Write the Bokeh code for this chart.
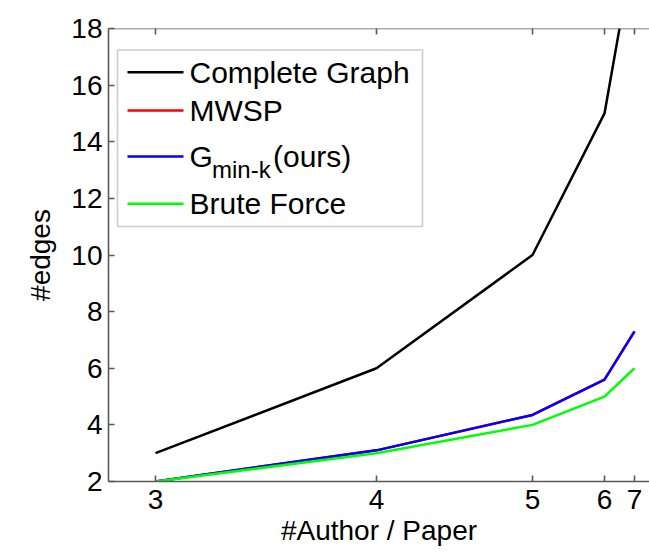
from bokeh.plotting import figure
from bokeh.models import Range1d, FixedTicker, BoxAnnotation, Label, Span
from bokeh.embed import file_html
from bokeh.resources import INLINE

# ---- data ----
author_ticks = [3, 4, 5, 6, 7]                 # tick labels on the x axis
x_axis_pos = [0.0, 2.21, 3.77, 4.49, 4.79]     # where each tick sits on the original's non-uniform x axis
complete_graph = [3, 6, 10, 15, 21]
mwsp = [2, 3.1, 4.35, 5.6, 7.3]
gmin_k = [2, 3.1, 4.35, 5.6, 7.3]
brute_force = [2, 3, 4, 5, 6]
y_ticks = [2, 4, 6, 8, 10, 12, 14, 16, 18]

series_names = ["Complete Graph", "MWSP", "G", "Brute Force"]
series_colors = ["#000000", "#ff0000", "#0000ff", "#00ff00"]

# ---- layout ----
W, H = 649, 554
LEFT, TOP, BOTTOM = 108, 28, 73
X0, X1 = -0.47, 4.94
Y0, Y1 = 2, 18
FONT = "Liberation Sans"
AXIS_COLOR = "#595959"


def dx(px):
    return X0 + (px - LEFT) / (W - LEFT) * (X1 - X0)


def dy(py):
    return Y1 - (py - TOP) / (H - TOP - BOTTOM) * (Y1 - Y0)


p = figure(width=W, height=H, x_range=Range1d(X0, X1), y_range=Range1d(Y0, Y1),
           output_backend="svg", toolbar_location=None,
           min_border_left=LEFT, min_border_right=0, min_border_top=TOP,
           min_border_bottom=BOTTOM)
p.outline_line_color = None
p.grid.visible = False
p.background_fill_color = "white"
p.border_fill_color = "white"

xa = p.xaxis[0]
xa.ticker = FixedTicker(ticks=x_axis_pos)
xa.major_label_overrides = {pos: str(t) for pos, t in zip(x_axis_pos, author_ticks)}
xa.axis_label = "#Author / Paper"
xa.major_label_standoff = 8
xa.axis_label_standoff = 3

ya = p.yaxis[0]
ya.ticker = FixedTicker(ticks=y_ticks)
ya.axis_label = "#edges"
ya.major_label_standoff = 6
ya.axis_label_standoff = 12

for ax in (xa, ya):
    ax.major_tick_in = 6
    ax.major_tick_out = 0
    ax.minor_tick_line_color = None
    ax.axis_line_color = AXIS_COLOR
    ax.axis_line_width = 1.6
    ax.major_tick_line_color = AXIS_COLOR
    ax.major_tick_line_width = 1.6
    ax.major_label_text_font = FONT
    ax.major_label_text_font_size = "28px"
    ax.major_label_text_color = "black"
    ax.axis_label_text_font = FONT
    ax.axis_label_text_font_size = "28px"
    ax.axis_label_text_font_style = "normal"
    ax.axis_label_text_color = "black"

# top frame line with inward ticks (box on, as in the original)
p.add_layout(Span(location=Y1, dimension="width", line_color=AXIS_COLOR,
                  line_width=1.6, level="overlay"))
tick_len = (Y1 - Y0) / (H - TOP - BOTTOM) * 6
p.segment(x0=x_axis_pos, x1=x_axis_pos, y0=[Y1] * len(x_axis_pos),
          y1=[Y1 - tick_len] * len(x_axis_pos), line_color=AXIS_COLOR,
          line_width=1.6, level="overlay")

# ---- data lines ----
for ys, c in zip([complete_graph, mwsp, gmin_k, brute_force], series_colors):
    p.line(x_axis_pos, ys, line_color=c, line_width=2.5)

# ---- legend (drawn by hand for the subscript) ----
p.add_layout(BoxAnnotation(left=dx(117), right=dx(422), top=dy(49.5), bottom=dy(226),
                           fill_color="white", fill_alpha=0.0,
                           line_color=AXIS_COLOR, line_width=1.6, level="overlay"))
row_y = [71.7, 110, 156.0, 203.3]
p.segment(x0=[dx(127)] * 4, x1=[dx(183)] * 4,
          y0=[dy(r) for r in row_y], y1=[dy(r) for r in row_y],
          line_color=series_colors, line_width=2.5, level="overlay")
for name, r in zip(series_names, row_y):
    if name == "G":
        continue
    p.add_layout(Label(x=dx(189), y=dy(r), text=name, text_font=FONT,
                       text_font_size="30px", text_baseline="middle", text_color="black"))
# G_{min-k}(ours)
g_mid = 155.5
p.add_layout(Label(x=dx(189), y=dy(g_mid), text="G", text_font=FONT,
                   text_font_size="30px", text_baseline="middle", text_color="black"))
p.add_layout(Label(x=dx(211.5), y=dy(168.5), text="min-k", text_font=FONT,
                   text_font_size="24px", text_baseline="middle", text_color="black"))
p.add_layout(Label(x=dx(272.5), y=dy(g_mid), text="(ours)", text_font=FONT,
                   text_font_size="30px", text_baseline="middle", text_color="black"))

open("out.html", "w").write(file_html(p, INLINE))
